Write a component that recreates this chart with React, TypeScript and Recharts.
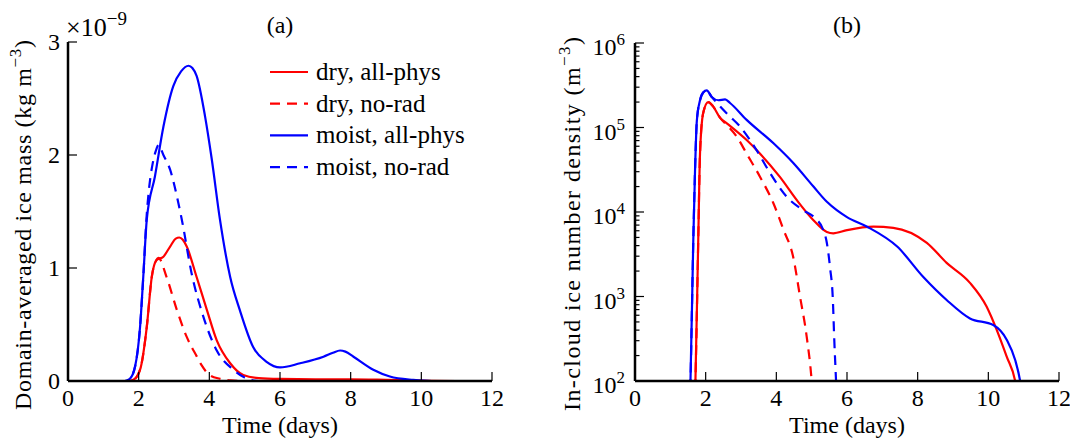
import React from "react";
import { LineChart, Line, XAxis, YAxis } from "recharts";

type Pt = [number, number];

// ---- panel (a): domain-averaged ice mass, in units of 1e-9 kg m^-3
const dryAllPhysMass: Pt[] = [
  [0, 0], [1.7, 0], [1.85, 0.01], [2.04, 0.1], [2.23, 0.48], [2.37, 0.92],
  [2.51, 1.07], [2.7, 1.1], [2.89, 1.19], [3.05, 1.26], [3.15, 1.27],
  [3.25, 1.25], [3.36, 1.19], [3.64, 0.92], [3.93, 0.63], [4.21, 0.36],
  [4.59, 0.157], [4.96, 0.053], [5.4, 0.025], [6, 0.018], [7, 0.015],
  [8, 0.015], [9, 0.01], [10, 0.003], [11, 0], [12, 0],
];
const dryNoRadMass: Pt[] = [
  [0, 0], [1.7, 0], [1.85, 0.01], [2.04, 0.1], [2.23, 0.48], [2.37, 0.92],
  [2.5, 1.07], [2.56, 1.09], [2.79, 0.92], [3.08, 0.63], [3.36, 0.39],
  [3.64, 0.22], [3.78, 0.14], [4.02, 0.05], [4.3, 0.02], [4.6, 0.005],
  [5, 0], [12, 0],
];
const moistAllPhysMass: Pt[] = [
  [0, 0], [1.6, 0], [1.75, 0.02], [1.9, 0.13], [2.04, 0.48], [2.13, 0.92],
  [2.23, 1.43], [2.46, 1.81], [2.7, 2.25], [2.98, 2.61], [3.2, 2.74],
  [3.41, 2.79], [3.52, 2.77], [3.64, 2.7], [3.88, 2.34], [4.07, 1.96],
  [4.3, 1.43], [4.59, 0.92], [4.87, 0.62], [5.24, 0.3], [5.62, 0.17],
  [6.0, 0.12], [6.57, 0.157], [7.23, 0.215], [7.5, 0.25], [7.7, 0.27],
  [7.85, 0.26], [8.08, 0.215], [8.64, 0.1], [9.11, 0.04], [9.77, 0.01],
  [10.3, 0], [12, 0],
];
const moistNoRadMass: Pt[] = [
  [0, 0], [1.6, 0], [1.75, 0.02], [1.9, 0.13], [2.04, 0.48], [2.13, 0.92],
  [2.23, 1.48], [2.3, 1.72], [2.4, 1.93], [2.5, 2.05], [2.56, 2.09],
  [2.7, 2.0], [2.89, 1.87], [3.12, 1.58], [3.22, 1.43], [3.5, 0.95],
  [3.83, 0.57], [4.21, 0.27], [4.68, 0.1], [5.0, 0.03], [5.4, 0], [12, 0],
];

// ---- panel (b): in-cloud ice number density, m^-3
const dryAllPhysDensity: Pt[] = [
  [1.65, 20], [1.71, 100], [1.79, 4700], [1.84, 49000], [1.93, 148000],
  [2.07, 200000], [2.21, 178000], [2.41, 130000], [2.6, 112000],
  [3.16, 71000], [3.54, 49000], [4.1, 26000], [4.58, 13800], [5.05, 8000],
  [5.43, 5800], [5.61, 5600], [6.0, 6100], [6.75, 6700], [7.31, 6500],
  [8.26, 4300], [8.82, 2500], [9.48, 1450], [9.95, 760], [10.24, 400],
  [10.52, 194], [10.76, 100], [10.85, 60],
];
const dryNoRadDensity: Pt[] = [
  [1.65, 20], [1.71, 100], [1.79, 4700], [1.84, 49000], [1.93, 148000],
  [2.07, 200000], [2.21, 178000], [2.41, 130000], [2.6, 107000],
  [2.88, 78000], [3.16, 49000], [3.54, 26000], [3.92, 12600], [4.2, 6200],
  [4.48, 2900], [4.67, 1000], [4.86, 333], [5.0, 100], [5.05, 50],
];
const moistAllPhysDensity: Pt[] = [
  [1.5, 20], [1.57, 100], [1.65, 4700], [1.7, 32000], [1.75, 120000],
  [1.84, 210000], [1.93, 260000], [2.03, 275000], [2.17, 230000],
  [2.36, 210000], [2.55, 215000], [2.69, 195000], [3.16, 123000],
  [3.92, 65000], [4.48, 38000], [5.05, 20000], [5.43, 13200], [5.71, 10500],
  [6.0, 8700], [6.57, 6700], [7.42, 3900], [8.16, 1700], [8.82, 910],
  [9.48, 550], [10.14, 460], [10.52, 308], [10.76, 177], [10.9, 100],
  [11.0, 50],
];
const moistNoRadDensity: Pt[] = [
  [1.5, 20], [1.57, 100], [1.65, 4700], [1.7, 32000], [1.75, 120000],
  [1.84, 210000], [1.93, 260000], [2.03, 275000], [2.17, 230000],
  [2.41, 178000], [2.64, 141000], [2.97, 103000], [3.44, 54000],
  [3.82, 29000], [4.29, 15200], [4.76, 10500], [5.09, 8500], [5.33, 6100],
  [5.43, 4300], [5.52, 2200], [5.6, 910], [5.64, 308], [5.69, 100],
  [5.72, 50],
];

const seriesNames = ["dry, all-phys", "dry, no-rad", "moist, all-phys", "moist, no-rad"];

const timeTicks = [0, 2, 4, 6, 8, 10, 12];
const innerTimeTicks = [2, 4, 6, 8, 10];
const massTicks = [0, 1, 2, 3];
const densityTicks = [1e2, 1e3, 1e4, 1e5, 1e6];
const densityMinorTicks = [1e2, 1e3, 1e4, 1e5].flatMap((d) =>
  [2, 3, 4, 5, 6, 7, 8, 9].map((m) => m * d)
);

const FONT = "Liberation Serif, DejaVu Serif, serif";
const FS = 24;
const RED = "#ff0000";
const BLUE = "#0000ff";
const DASH = "10 7";

const styles = [
  { color: RED, dash: undefined },
  { color: RED, dash: DASH },
  { color: BLUE, dash: undefined },
  { color: BLUE, dash: DASH },
];

const rows = (pts: Pt[]) => pts.map(([t, v]) => ({ t, v }));

const isMinor = (v: number) => {
  const l = Math.log10(v);
  return Math.abs(l - Math.round(l)) > 1e-6;
};

type Side = "left" | "right" | "top" | "bottom";

// draws inward tick marks (and optional label) ourselves
function tickFor(side: Side, label?: "plain" | "power", minorCheck?: (v: number) => boolean) {
  return (props: any) => {
    const { x, y, payload } = props;
    const v = payload.value as number;
    const len = minorCheck && minorCheck(v) ? 4.5 : 9;
    let mark = null;
    if (side === "left") mark = <line x1={x} x2={x + len} y1={y} y2={y} />;
    if (side === "right") mark = <line x1={x} x2={x - len} y1={y} y2={y} />;
    if (side === "bottom") mark = <line x1={x} x2={x} y1={y} y2={y - len} />;
    if (side === "top") mark = <line x1={x} x2={x} y1={y} y2={y + len} />;
    let text = null;
    if (label === "plain" && side === "left") {
      text = (
        <text x={x - 8} y={y + 8} textAnchor="end" fontFamily={FONT} fontSize={FS} fill="#000">
          {v}
        </text>
      );
    }
    if (label === "plain" && side === "bottom") {
      text = (
        <text x={x} y={y + 25} textAnchor="middle" fontFamily={FONT} fontSize={FS} fill="#000">
          {v}
        </text>
      );
    }
    if (label === "power" && !isMinor(v)) {
      text = (
        <text x={x - 10} y={y + 12} textAnchor="end" fontFamily={FONT} fontSize={FS} fill="#000">
          10
          <tspan dy={-10} fontSize={17}>
            {Math.round(Math.log10(v))}
          </tspan>
        </text>
      );
    }
    return (
      <g>
        <g stroke="#000" strokeWidth={1.2}>{mark}</g>
        {text}
      </g>
    );
  };
}

const frame = { stroke: "#000", strokeWidth: 2.5 };

function seriesLines(sets: Pt[][]) {
  return sets.map((pts, i) => (
    <Line
      key={seriesNames[i]}
      name={seriesNames[i]}
      xAxisId="bottom"
      yAxisId="left"
      data={rows(pts)}
      dataKey="v"
      type="monotone"
      stroke={styles[i].color}
      strokeDasharray={styles[i].dash}
      strokeWidth={2.2}
      dot={false}
      activeDot={false}
      isAnimationActive={false}
    />
  ));
}

function MassChart() {
  return (
    <LineChart
      width={540}
      height={439}
      margin={{ top: 42, right: 48, bottom: 0, left: 0 }}
      style={{ position: "absolute", left: 0, top: 0 }}
    >
      <XAxis xAxisId="bottom" type="number" dataKey="t" domain={[0, 12]} ticks={timeTicks}
        allowDataOverflow height={58} interval={0} tickSize={0} tickMargin={0}
        tickLine={false} axisLine={frame} tick={tickFor("bottom", "plain")} />
      <XAxis xAxisId="top" orientation="top" type="number" domain={[0, 12]} ticks={innerTimeTicks}
        allowDataOverflow height={0} interval={0} tickSize={0} tickMargin={0}
        tickLine={false} axisLine={frame} tick={tickFor("top")} />
      <YAxis yAxisId="left" type="number" domain={[0, 3]} ticks={massTicks} allowDataOverflow
        width={68} interval={0} tickSize={0} tickMargin={0} tickLine={false} axisLine={frame}
        tick={tickFor("left", "plain")} />
      <YAxis yAxisId="right" orientation="right" type="number" domain={[0, 3]} ticks={[1, 2]}
        allowDataOverflow width={0} interval={0} tickSize={0} tickMargin={0} tickLine={false}
        axisLine={frame} tick={tickFor("right")} />
      {seriesLines([dryAllPhysMass, dryNoRadMass, moistAllPhysMass, moistNoRadMass])}
    </LineChart>
  );
}

function DensityChart() {
  const allDensityTicks = [...densityTicks, ...densityMinorTicks].sort((a, b) => a - b);
  return (
    <LineChart
      width={530}
      height={439}
      margin={{ top: 43, right: 11, bottom: 0, left: 0 }}
      style={{ position: "absolute", left: 540, top: 0 }}
    >
      <XAxis xAxisId="bottom" type="number" dataKey="t" domain={[0, 12]} ticks={timeTicks}
        allowDataOverflow height={58} interval={0} tickSize={0} tickMargin={0}
        tickLine={false} axisLine={frame} tick={tickFor("bottom", "plain")} />
      <XAxis xAxisId="top" orientation="top" type="number" domain={[0, 12]} ticks={innerTimeTicks}
        allowDataOverflow height={0} interval={0} tickSize={0} tickMargin={0}
        tickLine={false} axisLine={frame} tick={tickFor("top")} />
      <YAxis yAxisId="left" type="number" scale="log" domain={[100, 1e6]} ticks={allDensityTicks}
        allowDataOverflow width={95} interval={0} tickSize={0} tickMargin={0} tickLine={false}
        axisLine={frame} tick={tickFor("left", "power", isMinor)} />
      <YAxis yAxisId="right" orientation="right" type="number" scale="log" domain={[100, 1e6]}
        ticks={allDensityTicks} allowDataOverflow width={0} interval={0} tickSize={0}
        tickMargin={0} tickLine={false} axisLine={frame} tick={tickFor("right", undefined, isMinor)} />
      {seriesLines([dryAllPhysDensity, dryNoRadDensity, moistAllPhysDensity, moistNoRadDensity])}
    </LineChart>
  );
}

function Annotations() {
  const t = { fontFamily: FONT, fill: "#000" } as const;
  return (
    <svg width={1070} height={439} style={{ position: "absolute", left: 0, top: 0, pointerEvents: "none" }}>
      <text x={280} y={33} textAnchor="middle" fontSize={FS} {...t}>(a)</text>
      <text x={847} y={33} textAnchor="middle" fontSize={FS} {...t}>(b)</text>
      <text x={66} y={36} fontSize={26} {...t}>
        ×10<tspan dy={-11} fontSize={19}>−9</tspan>
      </text>
      <text x={280} y={433} textAnchor="middle" fontSize={24} {...t}>Time (days)</text>
      <text x={847} y={433} textAnchor="middle" fontSize={24} {...t}>Time (days)</text>
      <text transform="translate(31,225) rotate(-90)" textAnchor="middle" fontSize={24}
        textLength={370} lengthAdjust="spacing" {...t}>
        Domain-averaged ice mass (kg m<tspan dy={-10} fontSize={17}>−3</tspan>
        <tspan dy={10}>)</tspan>
      </text>
      <text transform="translate(580,224) rotate(-90)" textAnchor="middle" fontSize={24}
        textLength={374} lengthAdjust="spacing" {...t}>
        In-cloud ice number density (m<tspan dy={-10} fontSize={17}>−3</tspan>
        <tspan dy={10}>)</tspan>
      </text>
      {seriesNames.map((name, i) => {
        const y = 72 + i * 31.7;
        return (
          <g key={name}>
            <line x1={270} x2={308} y1={y} y2={y} stroke={styles[i].color}
              strokeWidth={2.2} strokeDasharray={styles[i].dash} />
            <text x={316} y={y + 8} fontSize={25} {...t}>{name}</text>
          </g>
        );
      })}
    </svg>
  );
}

export default function App() {
  return (
    <div style={{ position: "absolute", left: 0, top: 0, width: 1070, height: 439, background: "#fff" }}>
      <MassChart />
      <DensityChart />
      <Annotations />
    </div>
  );
}
